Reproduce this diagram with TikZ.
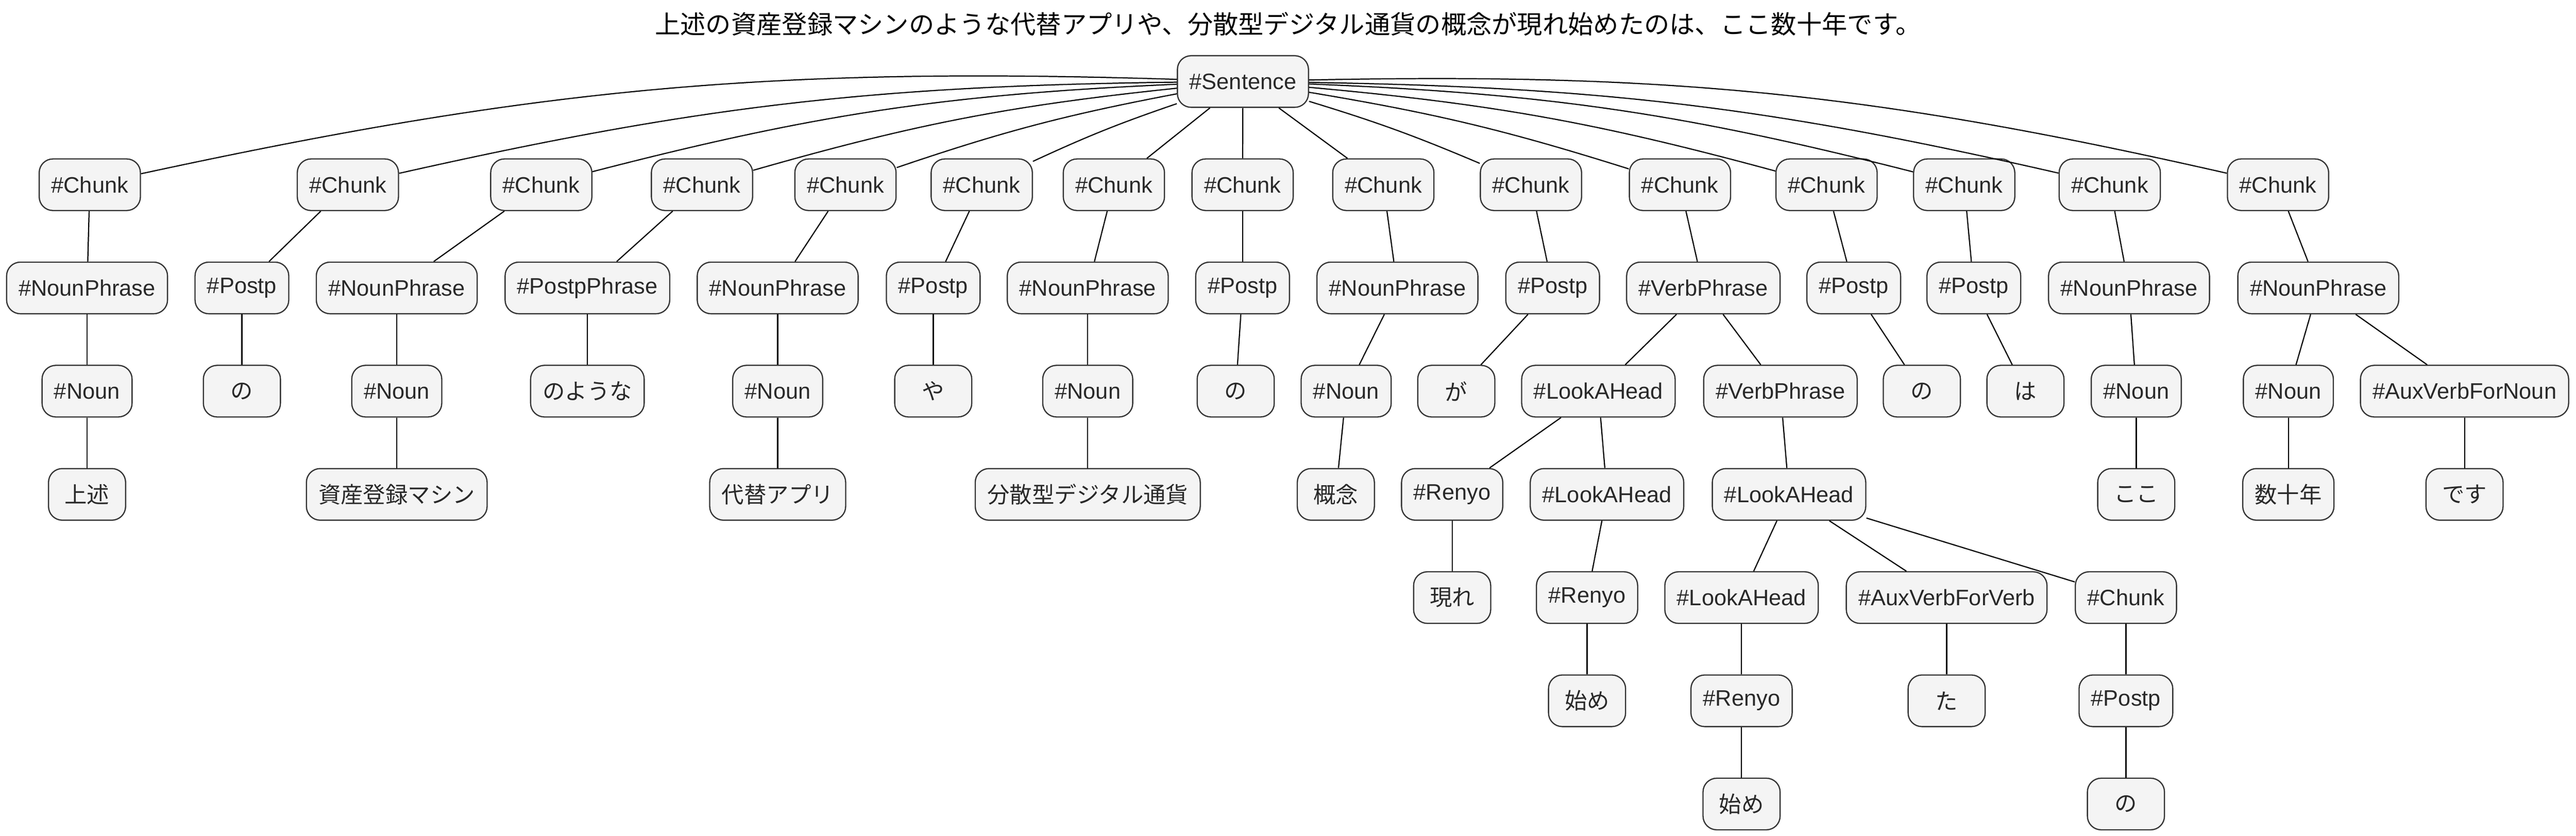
\documentclass[tikz,border=0pt]{standalone}
\usepackage{fontspec}
\setmainfont{Liberation Sans}
\newfontfamily\jpfont{Noto Sans CJK JP}
\usetikzlibrary{positioning}
\definecolor{boxfill}{HTML}{F4F4F4}
\definecolor{boxline}{HTML}{333333}

\begin{document}
\begin{tikzpicture}[
            node distance = 3cm, % one level of the tree
            tok/.style = {draw=boxline, fill=boxfill, text=boxline!80!black, line width=1pt,
                rounded corners=0.4cm, minimum height=1.5cm, minimum width=2.24cm,
                inner xsep=0.35cm, font=\fontsize{18.5}{22}\selectfont}, % tag box
            word/.style = {tok, font=\jpfont\fontsize{18.5}{22}\selectfont}, % leaf box
            line width = 0.95pt % edge style
        ]
	\useasboundingbox (0,0) rectangle (74.86,24.29);

	\node[font=\jpfont\fontsize{21}{25}\selectfont] (title) at (37.43,23.59) {上述の資産登録マシンのような代替アプリや、分散型デジタル通貨の概念が現れ始めたのは、ここ数十年です。};

	\node[tok] (S) at (36.12,21.92) {\#Sentence};

	% chunks
	\node[tok] (c1) at (2.61,18.92) {\#Chunk};
	\node[tok] (c2) at (10.11,18.92) {\#Chunk};
	\node[tok] (c3) at (15.73,18.92) {\#Chunk};
	\node[tok] (c4) at (20.40,18.92) {\#Chunk};
	\node[tok] (c5) at (24.57,18.92) {\#Chunk};
	\node[tok] (c6) at (28.53,18.92) {\#Chunk};
	\node[tok] (c7) at (32.37,18.92) {\#Chunk};
	\node[tok] (c8) at (36.11,18.92) {\#Chunk};
	\node[tok] (c9) at (40.20,18.92) {\#Chunk};
	\node[tok] (c10) at (44.49,18.92) {\#Chunk};
	\node[tok] (c11) at (48.82,18.92) {\#Chunk};
	\node[tok] (c12) at (53.08,18.92) {\#Chunk};
	\node[tok] (c13) at (57.08,18.92) {\#Chunk};
	\node[tok] (c14) at (61.31,18.92) {\#Chunk};
	\node[tok] (c15) at (66.20,18.92) {\#Chunk};

	% second level
	\node[tok] (np1) [below of=c1, xshift=-0.08cm] {\#NounPhrase};
	\node[tok] (p2) [below of=c2, xshift=-3.08cm] {\#Postp};
	\node[tok] (np3) [below of=c3, xshift=-4.20cm] {\#NounPhrase};
	\node[tok] (pp4) [below of=c4, xshift=-3.33cm] {\#PostpPhrase};
	\node[tok] (np5) [below of=c5, xshift=-1.97cm] {\#NounPhrase};
	\node[tok] (p6) [below of=c6, xshift=-1.41cm] {\#Postp};
	\node[tok] (np7) [below of=c7, xshift=-0.76cm] {\#NounPhrase};
	\node[tok] (p8) [below of=c8] {\#Postp};
	\node[tok] (np9) [below of=c9, xshift=0.41cm] {\#NounPhrase};
	\node[tok] (p10) [below of=c10, xshift=0.63cm] {\#Postp};
	\node[tok] (vp11) [below of=c11, xshift=0.68cm] {\#VerbPhrase};
	\node[tok] (p12) [below of=c12, xshift=0.79cm] {\#Postp};
	\node[tok] (p13) [below of=c13, xshift=0.28cm] {\#Postp};
	\node[tok] (np14) [below of=c14, xshift=0.56cm] {\#NounPhrase};
	\node[tok] (np15) [below of=c15, xshift=1.17cm] {\#NounPhrase};

	% third level
	\node[tok] (n1) [below of=np1] {\#Noun};
	\node[word] (no2) [below of=p2] {の};
	\node[tok] (n3) [below of=np3] {\#Noun};
	\node[word] (noyouna) [below of=pp4] {のような};
	\node[tok] (n5) [below of=np5] {\#Noun};
	\node[word] (ya) [below of=p6] {や};
	\node[tok] (n7) [below of=np7] {\#Noun};
	\node[word] (no8) [below of=p8, xshift=-0.20cm] {の};
	\node[tok] (n9) [below of=np9, xshift=-1.49cm] {\#Noun};
	\node[word] (ga) [below of=p10, xshift=-2.80cm] {が};
	\node[tok] (la1) [below of=vp11, xshift=-3.05cm] {\#LookAHead};
	\node[tok] (vp2) [below of=vp11, xshift=2.24cm] {\#VerbPhrase};
	\node[word] (no12) [below of=p12, xshift=1.98cm] {の};
	\node[word] (ha) [below of=p13, xshift=1.50cm] {は};
	\node[tok] (n14) [below of=np14, xshift=0.21cm] {\#Noun};
	\node[tok] (n15) [below of=np15, xshift=-0.87cm] {\#Noun};
	\node[tok] (aux15) [below of=np15, xshift=4.25cm] {\#AuxVerbForNoun};

	% fourth level
	\node[word] (jouju) [below of=n1] {上述};
	\node[word] (shisan) [below of=n3] {資産登録マシン};
	\node[word] (daitai) [below of=n5] {代替アプリ};
	\node[word] (bunsan) [below of=n7] {分散型デジタル通貨};
	\node[word] (gainen) [below of=n9, xshift=-0.30cm] {概念};
	\node[tok] (ry1) [below of=la1, xshift=-4.25cm] {\#Renyo};
	\node[tok] (la2) [below of=la1, xshift=0.25cm] {\#LookAHead};
	\node[tok] (la3) [below of=vp2, xshift=0.25cm] {\#LookAHead};
	\node[word] (koko) [below of=n14] {ここ};
	\node[word] (suujuunen) [below of=n15] {数十年};
	\node[word] (desu) [below of=aux15] {です};

	% fifth level
	\node[word] (araware) [below of=ry1] {現れ};
	\node[tok] (ry2) [below of=la2, xshift=-0.58cm] {\#Renyo};
	\node[tok] (la4) [below of=la3, xshift=-1.38cm] {\#LookAHead};
	\node[tok] (avv) [below of=la3, xshift=4.58cm] {\#AuxVerbForVerb};
	\node[tok] (c16) [below of=la3, xshift=9.79cm] {\#Chunk};

	% sixth and seventh level
	\node[word] (hajime1) [below of=ry2] {始め};
	\node[tok] (ry3) [below of=la4] {\#Renyo};
	\node[word] (ta) [below of=avv] {た};
	\node[tok] (p16) [below of=c16] {\#Postp};
	\node[word] (hajime2) [below of=ry3] {始め};
	\node[word] (no16) [below of=p16] {の};

	\draw[bend right=7] (S) edge (c1);
	\draw[bend right=6] (S) edge (c2);
	\draw[bend right=6] (S) edge (c3);
	\draw[bend right=5] (S) edge (c4);
	\draw[bend right=4] (S) edge (c5);
	\draw[bend right=3] (S) edge (c6);
	\draw (S) -- (c7);
	\draw (S) -- (c8);
	\draw (S) -- (c9);
	\draw[bend left=3] (S) edge (c10);
	\draw[bend left=4] (S) edge (c11);
	\draw[bend left=5] (S) edge (c12);
	\draw[bend left=6] (S) edge (c13);
	\draw[bend left=6] (S) edge (c14);
	\draw[bend left=7] (S) edge (c15);

	\draw (c1) -- (np1);
	\draw (np1) -- (n1);
	\draw (n1) -- (jouju);
	\draw (c2) -- (p2);
	\draw (p2) -- (no2);
	\draw (c3) -- (np3);
	\draw (np3) -- (n3);
	\draw (n3) -- (shisan);
	\draw (c4) -- (pp4);
	\draw (pp4) -- (noyouna);
	\draw (c5) -- (np5);
	\draw (np5) -- (n5);
	\draw (n5) -- (daitai);
	\draw (c6) -- (p6);
	\draw (p6) -- (ya);
	\draw (c7) -- (np7);
	\draw (np7) -- (n7);
	\draw (n7) -- (bunsan);
	\draw (c8) -- (p8);
	\draw (p8) -- (no8);
	\draw (c9) -- (np9);
	\draw (np9) -- (n9);
	\draw (n9) -- (gainen);
	\draw (c10) -- (p10);
	\draw (p10) -- (ga);

	\draw (c11) -- (vp11);
	\draw (vp11) -- (la1);
	\draw (vp11) -- (vp2);
	\draw (la1) -- (ry1);
	\draw (ry1) -- (araware);
	\draw (la1) -- (la2);
	\draw (la2) -- (ry2);
	\draw (ry2) -- (hajime1);
	\draw (vp2) -- (la3);
	\draw (la3) -- (la4);
	\draw (la4) -- (ry3);
	\draw (ry3) -- (hajime2);
	\draw (la3) -- (avv);
	\draw (avv) -- (ta);
	\draw (la3) -- (c16);
	\draw (c16) -- (p16);
	\draw (p16) -- (no16);

	\draw (c12) -- (p12);
	\draw (p12) -- (no12);
	\draw (c13) -- (p13);
	\draw (p13) -- (ha);
	\draw (c14) -- (np14);
	\draw (np14) -- (n14);
	\draw (n14) -- (koko);
	\draw (c15) -- (np15);
	\draw (np15) -- (n15);
	\draw (n15) -- (suujuunen);
	\draw (np15) -- (aux15);
	\draw (aux15) -- (desu);
\end{tikzpicture}
\end{document}
